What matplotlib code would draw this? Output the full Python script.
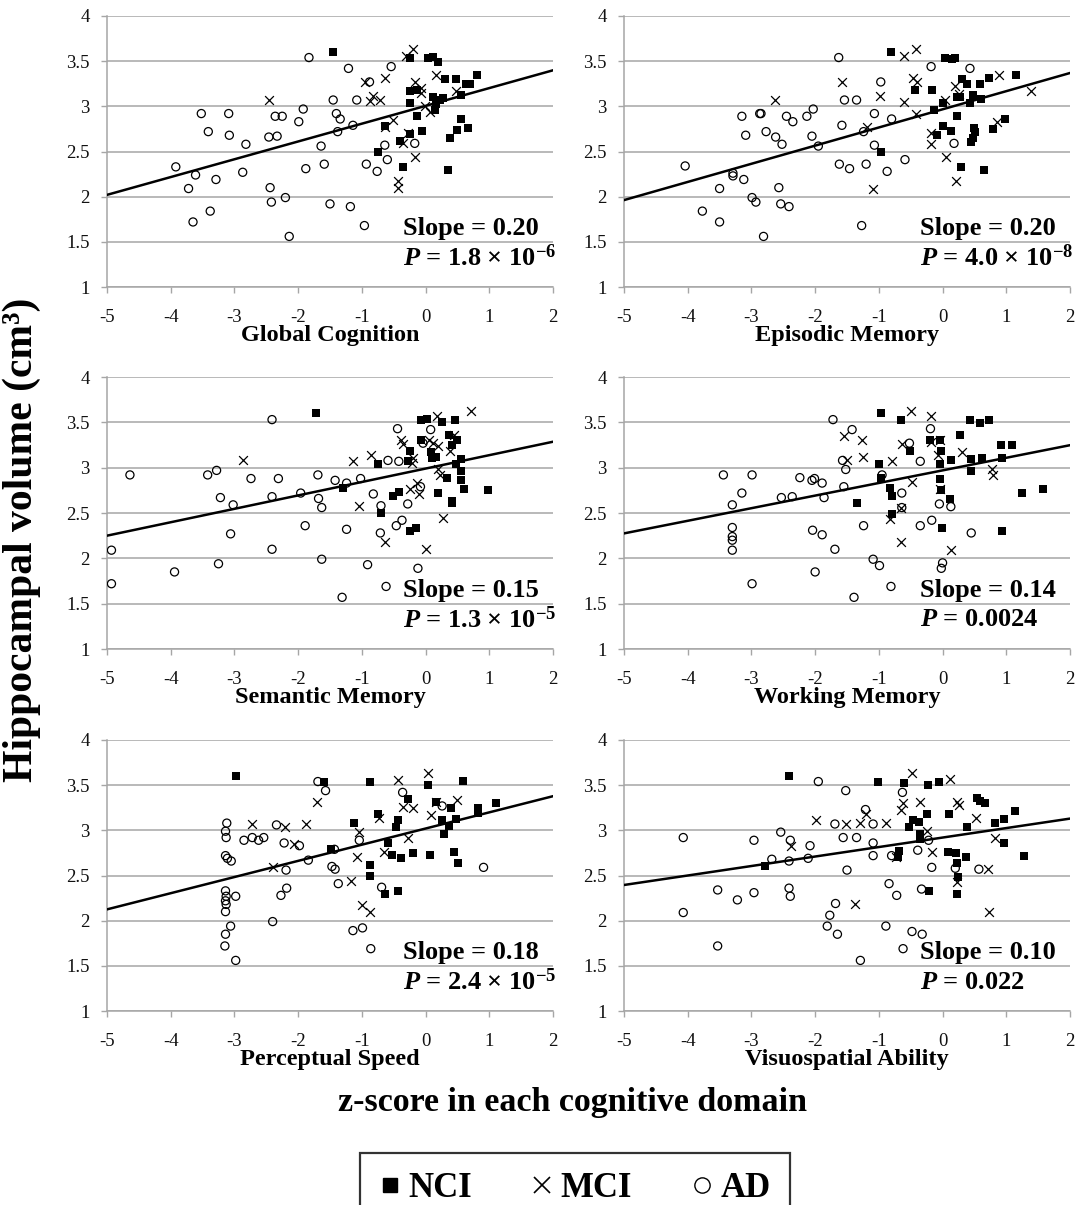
import matplotlib
matplotlib.use("Agg")
import matplotlib.pyplot as plt
from matplotlib.lines import Line2D
import numpy as np

plt.rcParams['font.family'] = ['Liberation Serif', 'DejaVu Serif']
plt.rcParams['axes.unicode_minus'] = False
plt.rcParams['mathtext.fontset'] = 'custom'
plt.rcParams['mathtext.rm'] = 'Liberation Serif:bold'
plt.rcParams['mathtext.it'] = 'Liberation Serif:bold:italic'
plt.rcParams['mathtext.bf'] = 'Liberation Serif:bold'

# ---------------- data ----------------
domains = ["Global Cognition", "Episodic Memory", "Semantic Memory",
           "Working Memory", "Perceptual Speed", "Visuospatial Ability"]
slopes = [0.197, 0.201, 0.148, 0.139, 0.179, 0.105]
intercepts = [3.005, 2.967, 2.99, 2.97, 3.02, 2.92]
slope_labels = ["Slope = 0.20", "Slope = 0.20", "Slope = 0.15",
                "Slope = 0.14", "Slope = 0.18", "Slope = 0.10"]
p_labels = [r"$\mathit{P}$ = 1.8 × 10$^{-6}$", r"$\mathit{P}$ = 4.0 × 10$^{-8}$",
            r"$\mathit{P}$ = 1.3 × 10$^{-5}$", r"$\mathit{P}$ = 0.0024",
            r"$\mathit{P}$ = 2.4 × 10$^{-5}$", r"$\mathit{P}$ = 0.022"]
x_ticks = [-5, -4, -3, -2, -1, 0, 1, 2]
y_ticks = [1, 1.5, 2, 2.5, 3, 3.5, 4]
y_tick_labels = ["1", "1.5", "2", "2.5", "3", "3.5", "4"]
groups = ["NCI", "MCI", "AD"]

# Global Cognition
gc_ad_x = [-3.92, -3.72, -3.65, -3.61, -3.52, -3.41, -3.38, -3.29, -3.09, -3.08, -2.87, -2.82,
           -2.46, -2.44, -2.42, -2.36, -2.33, -2.25, -2.20, -2.14, -1.99, -1.92, -1.88, -1.83,
           -1.64, -1.59, -1.50, -1.45, -1.40, -1.38, -1.34, -1.21, -1.18, -1.14, -1.08, -0.96,
           -0.93, -0.88, -0.76, -0.64, -0.60, -0.54, -0.17]
gc_ad_y = [2.33, 2.09, 1.72, 2.24, 2.92, 2.72, 1.84, 2.19, 2.92, 2.68, 2.27, 2.58,
           2.66, 2.10, 1.94, 2.89, 2.67, 2.89, 1.99, 1.56, 2.83, 2.97, 2.31, 3.54,
           2.56, 2.36, 1.92, 3.07, 2.92, 2.72, 2.86, 3.42, 1.89, 2.79, 3.07, 1.68,
           2.36, 3.27, 2.28, 2.57, 2.41, 3.44, 2.59]
gc_mci_x = [-2.46, -0.95, -0.88, -0.82, -0.72, -0.64, -0.64, -0.51, -0.43, -0.43, -0.35,
            -0.30, -0.27, -0.19, -0.17, -0.17, -0.07, -0.07, -0.01, 0.07, 0.17, 0.47]
gc_mci_y = [3.07, 3.27, 3.06, 3.11, 3.07, 3.31, 2.77, 2.85, 2.17, 2.10, 2.59,
            3.56, 2.70, 3.63, 3.27, 2.44, 3.20, 3.15, 3.00, 2.94, 3.35, 3.17]
gc_nci_x = [-1.45, -0.74, -0.64, -0.40, -0.35, -0.25, -0.24, -0.24, -0.24, -0.14, -0.13,
            -0.05, 0.04, 0.12, 0.20, 0.12, 0.17, 0.15, 0.23, 0.27, 0.30, 0.35, 0.38, 0.47,
            0.50, 0.55, 0.56, 0.63, 0.70, 0.66, 0.81]
gc_nci_y = [3.60, 2.49, 2.78, 2.62, 2.33, 2.69, 3.53, 3.04, 3.17, 3.18, 2.89,
            2.73, 3.53, 3.55, 3.49, 3.10, 3.03, 2.96, 3.07, 3.09, 3.30, 2.30, 2.65, 3.30,
            2.74, 2.86, 3.13, 3.25, 3.25, 2.76, 3.35]

# Episodic Memory
em_ad_x = [-4.04, -3.77, -3.50, -3.50, -3.29, -3.29, -3.15, -3.12, -3.09, -2.99, -2.93, -2.87,
           -2.85, -2.81, -2.77, -2.62, -2.57, -2.54, -2.52, -2.45, -2.41, -2.35, -2.13, -2.05,
           -2.03, -1.95, -1.63, -1.62, -1.58, -1.54, -1.46, -1.35, -1.27, -1.24, -1.20, -1.07,
           -1.07, -0.97, -0.87, -0.80, -0.59, -0.18, 0.18, 0.43]
em_ad_y = [2.34, 1.84, 2.09, 1.72, 2.26, 2.23, 2.89, 2.19, 2.68, 1.99, 1.94, 2.92,
           2.92, 1.56, 2.72, 2.66, 2.10, 1.92, 2.58, 2.89, 1.89, 2.83, 2.89, 2.67,
           2.97, 2.56, 3.54, 2.36, 2.79, 3.07, 2.31, 3.07, 1.68, 2.72, 2.36, 2.92,
           2.57, 3.27, 2.28, 2.86, 2.41, 3.44, 2.59, 3.42]
em_mci_x = [-2.63, -1.58, -1.19, -1.09, -0.98, -0.61, -0.60, -0.46, -0.42, -0.40, -0.42,
            -0.18, -0.18, 0.04, 0.06, 0.20, 0.21, 0.26, 0.86, 0.88, 1.39]
em_mci_y = [3.07, 3.27, 2.77, 2.09, 3.11, 3.56, 3.05, 3.31, 3.63, 3.27, 2.92,
            2.70, 2.58, 3.07, 2.44, 3.23, 2.17, 3.14, 2.83, 3.35, 3.17]
em_nci_x = [-0.81, -0.96, -0.43, -0.17, -0.14, -0.08, 0.00, 0.00, 0.04, 0.15, 0.13, 0.19,
            0.23, 0.22, 0.28, 0.29, 0.31, 0.39, 0.43, 0.47, 0.45, 0.47, 0.50, 0.51, 0.59,
            0.60, 0.65, 0.73, 0.79, 0.98, 1.15]
em_nci_y = [3.60, 2.49, 3.18, 3.18, 2.96, 2.68, 3.04, 2.78, 3.53, 3.52, 2.73, 3.54,
            2.89, 3.10, 3.10, 2.33, 3.30, 3.25, 3.04, 3.13, 2.61, 2.65, 2.76, 2.72, 3.25,
            3.08, 2.30, 3.31, 2.75, 2.86, 3.35]

# Semantic Memory
sm_ad_x = [-4.93, -4.93, -4.64, -3.94, -3.42, -3.28, -3.25, -3.22, -3.02, -3.06, -2.74, -2.41,
           -2.41, -2.41, -2.31, -1.96, -1.89, -1.69, -1.68, -1.63, -1.63, -1.42, -1.31, -1.24,
           -1.24, -1.02, -0.91, -0.82, -0.70, -0.71, -0.62, -0.59, -0.46, -0.44, -0.42, -0.37,
           -0.28, -0.12, -0.08, -0.04, 0.08]
sm_ad_y = [2.09, 1.72, 2.92, 1.85, 2.92, 2.97, 1.94, 2.67, 2.59, 2.27, 2.88, 2.68,
           3.53, 2.10, 2.88, 2.72, 2.36, 2.92, 2.66, 2.56, 1.99, 2.86, 1.57, 2.83,
           2.32, 2.88, 1.93, 2.71, 2.58, 2.28, 1.69, 3.08, 2.36, 3.43, 3.07, 2.42,
           2.60, 1.89, 2.79, 3.27, 3.42]
sm_mci_x = [-2.86, -1.14, -1.04, -0.85, -0.63, -0.38, -0.35, -0.25, -0.21, -0.19, -0.14,
            -0.10, 0.00, 0.05, 0.12, 0.18, 0.19, 0.20, 0.23, 0.27, 0.39, 0.45, 0.71]
sm_mci_y = [3.08, 3.07, 2.58, 3.14, 2.18, 3.30, 3.26, 2.76, 3.05, 3.11, 2.83,
            2.71, 2.10, 3.30, 3.27, 3.57, 3.24, 2.98, 2.92, 2.44, 3.18, 3.36, 3.63]
sm_nci_x = [-1.72, -1.29, -0.74, -0.70, -0.51, -0.41, -0.28, -0.25, -0.25, -0.15, -0.07,
            -0.07, 0.03, 0.09, 0.10, 0.16, 0.19, 0.25, 0.33, 0.37, 0.42, 0.42, 0.42, 0.46,
            0.49, 0.47, 0.56, 0.56, 0.56, 0.60, 0.98]
sm_nci_y = [3.60, 2.78, 3.04, 2.50, 2.69, 2.73, 3.07, 3.18, 2.30, 2.33, 3.53,
            3.30, 3.54, 3.17, 3.11, 3.12, 2.72, 3.50, 2.89, 3.36, 3.25, 2.63, 2.61, 3.53,
            3.30, 3.04, 3.10, 2.96, 2.86, 2.76, 2.75]

# Working Memory
wm_ad_x = [-3.44, -3.30, -3.30, -3.30, -3.30, -3.30, -3.15, -2.99, -2.99, -2.53, -2.36, -2.24,
           -2.05, -2.04, -2.01, -2.00, -1.89, -1.89, -1.86, -1.72, -1.69, -1.55, -1.57, -1.52,
           -1.42, -1.39, -1.24, -1.09, -0.99, -0.95, -0.81, -0.64, -0.64, -0.52, -0.35, -0.35,
           -0.17, -0.19, -0.05, 0.00, -0.02, 0.13, 0.45]
wm_ad_y = [2.92, 2.59, 2.34, 2.24, 2.20, 2.09, 2.72, 2.92, 1.72, 2.67, 2.68, 2.89,
           2.86, 2.31, 2.88, 1.85, 2.83, 2.26, 2.67, 3.53, 2.10, 2.79, 3.08, 2.98,
           3.42, 1.57, 2.36, 1.99, 1.92, 2.92, 1.69, 2.72, 2.56, 3.27, 3.07, 2.36,
           2.42, 3.43, 2.60, 1.95, 1.89, 2.57, 2.28]
wm_mci_x = [-1.54, -1.50, -1.27, -1.25, -0.83, -0.79, -0.65, -0.65, -0.64, -0.49, -0.48,
            -0.18, -0.18, -0.07, -0.04, -0.04, 0.13, 0.30, 0.78, 0.79]
wm_mci_y = [3.35, 3.08, 3.30, 3.12, 2.43, 3.07, 2.18, 2.56, 3.26, 3.63, 2.84,
            3.57, 3.28, 3.14, 3.31, 2.76, 2.09, 3.17, 2.99, 2.92]
wm_nci_x = [-0.97, -0.65, -1.34, -0.99, -0.97, -0.83, -0.80, -0.80, -0.51, -0.20, -0.04,
            -0.02, -0.04, -0.04, -0.02, -0.01, 0.12, 0.14, 0.27, 0.43, 0.45, 0.45, 0.59,
            0.62, 0.73, 0.91, 0.93, 0.94, 1.09, 1.24, 1.57]
wm_nci_y = [3.60, 3.53, 2.61, 3.04, 2.89, 2.78, 2.69, 2.49, 3.18, 3.30, 3.30,
            3.18, 3.04, 2.87, 2.75, 2.33, 2.65, 3.08, 3.36, 3.53, 3.10, 2.96, 3.49,
            3.11, 3.53, 3.25, 3.11, 2.30, 3.25, 2.72, 2.76]

# Perceptual Speed
ps_ad_x = [-3.12, -3.14, -3.13, -3.14, -3.11, -3.05, -3.14, -3.13, -3.14, -3.13, -3.14, -2.98,
           -3.06, -3.14, -3.15, -2.98, -2.85, -2.72, -2.62, -2.54, -2.40, -2.34, -2.22, -2.27,
           -2.19, -2.18, -1.98, -1.84, -1.69, -1.57, -1.43, -1.47, -1.42, -1.37, -1.14, -1.04,
           -0.99, -0.86, -0.69, -0.36, 0.26, 0.91]
ps_ad_y = [3.08, 2.99, 2.92, 2.72, 2.69, 2.66, 2.33, 2.27, 2.22, 2.18, 2.10, 2.27,
           1.94, 1.85, 1.72, 1.56, 2.89, 2.92, 2.89, 2.92, 1.99, 3.06, 2.86, 2.28,
           2.56, 2.36, 2.83, 2.67, 3.54, 3.44, 2.79, 2.60, 2.57, 2.41, 1.89, 2.89,
           1.92, 1.69, 2.37, 3.42, 3.27, 2.59]
ps_mci_x = [-2.72, -2.40, -2.20, -2.07, -1.87, -1.70, -1.17, -1.08, -1.05, -1.00, -0.88,
            -0.73, -0.66, -0.44, -0.36, -0.27, -0.20, 0.04, 0.08, 0.16, 0.50]
ps_mci_y = [3.07, 2.59, 3.04, 2.85, 3.07, 3.31, 2.44, 2.70, 2.98, 2.17, 2.10,
            3.14, 2.76, 3.56, 3.26, 2.92, 3.25, 3.63, 3.17, 3.31, 3.34]
ps_nci_x = [-2.98, -1.59, -1.49, -1.12, -0.88, -0.87, -0.88, -0.74, -0.63, -0.59, -0.52,
            -0.46, -0.43, -0.44, -0.38, -0.27, -0.19, 0.04, 0.07, 0.16, 0.25, 0.29, 0.36,
            0.40, 0.45, 0.47, 0.51, 0.58, 0.83, 0.82, 1.10]
ps_nci_y = [3.60, 3.53, 2.79, 3.08, 3.53, 2.62, 2.49, 3.18, 2.30, 2.86, 2.73,
            3.04, 3.11, 2.33, 2.69, 3.35, 2.75, 3.50, 2.73, 3.31, 3.11, 2.96, 3.05,
            3.25, 2.76, 3.12, 2.64, 3.55, 3.25, 3.19, 3.30]

# Visuospatial Ability
va_ad_x = [-4.07, -4.07, -3.53, -3.53, -3.22, -2.96, -2.96, -2.68, -2.54, -2.39, -2.41, -2.41,
           -2.39, -2.11, -2.08, -1.95, -1.81, -1.77, -1.68, -1.65, -1.69, -1.56, -1.52, -1.50,
           -1.35, -1.29, -1.21, -1.09, -1.09, -1.09, -0.89, -0.84, -0.80, -0.72, -0.63, -0.62,
           -0.48, -0.39, -0.33, -0.32, -0.22, -0.17, 0.20, 0.57]
va_ad_y = [2.92, 2.09, 2.34, 1.72, 2.23, 2.89, 2.31, 2.68, 2.98, 2.89, 2.66, 2.36,
           2.27, 2.69, 2.83, 3.54, 1.94, 2.06, 2.19, 1.85, 3.07, 2.92, 3.44, 2.56,
           2.92, 1.56, 3.23, 3.07, 2.86, 2.72, 1.94, 2.41, 2.72, 2.28, 3.42, 1.69,
           1.88, 2.78, 2.35, 1.85, 2.89, 2.59, 2.58, 2.57]
va_mci_x = [-1.98, -2.38, -1.52, -1.37, -1.29, -1.20, -0.89, -0.73, -0.65, -0.62, -0.48,
            -0.36, -0.24, -0.17, 0.11, 0.22, 0.26, 0.22, 0.52, 0.71, 0.73, 0.82]
va_mci_y = [3.11, 2.83, 3.07, 2.18, 3.08, 3.18, 3.08, 2.71, 3.23, 3.30, 3.63,
            3.31, 2.99, 2.76, 3.57, 3.31, 3.28, 2.43, 3.14, 2.57, 2.10, 2.92]
va_nci_x = [-2.41, -2.79, -1.01, -0.68, -0.70, -0.60, -0.53, -0.46, -0.37, -0.35, -0.35,
            -0.25, -0.23, -0.22, -0.05, 0.10, 0.09, 0.21, 0.22, 0.24, 0.23, 0.36, 0.39,
            0.54, 0.58, 0.67, 0.82, 0.97, 0.96, 1.13, 1.28]
va_nci_y = [3.60, 2.61, 3.54, 2.77, 2.71, 3.52, 3.04, 3.11, 3.09, 2.96, 2.90,
            3.18, 3.50, 2.33, 3.53, 3.18, 2.76, 2.75, 2.64, 2.48, 2.30, 2.70, 3.04,
            3.36, 3.32, 3.30, 3.08, 3.12, 2.86, 3.21, 2.72]

panel_data = [
    (gc_nci_x, gc_nci_y, gc_mci_x, gc_mci_y, gc_ad_x, gc_ad_y),
    (em_nci_x, em_nci_y, em_mci_x, em_mci_y, em_ad_x, em_ad_y),
    (sm_nci_x, sm_nci_y, sm_mci_x, sm_mci_y, sm_ad_x, sm_ad_y),
    (wm_nci_x, wm_nci_y, wm_mci_x, wm_mci_y, wm_ad_x, wm_ad_y),
    (ps_nci_x, ps_nci_y, ps_mci_x, ps_mci_y, ps_ad_x, ps_ad_y),
    (va_nci_x, va_nci_y, va_mci_x, va_mci_y, va_ad_x, va_ad_y),
]

# ---------------- figure ----------------
W, H = 1076, 1205
fig = plt.figure(figsize=(W / 100, H / 100), dpi=100)

col_left = [107, 624]
ax_w = 446
row_top = [16, 377, 740]
ax_h = [271, 272, 271]

grid_col = "#a6a6a6"
for i in range(6):
    r, c = divmod(i, 2)
    l = col_left[c] / W
    b = 1 - (row_top[r] + ax_h[r]) / H
    ax = fig.add_axes([l, b, ax_w / W, ax_h[r] / H])
    nx, ny, mx, my, ax_x, ax_y = panel_data[i]

    ax.set_xlim(-5, 2)
    ax.set_ylim(1, 4)
    ax.set_xticks(x_ticks)
    ax.set_xticklabels([str(t) for t in x_ticks])
    ax.set_yticks(y_ticks)
    ax.set_yticklabels(y_tick_labels)
    ax.yaxis.grid(True, color=grid_col, lw=1.1)
    ax.set_axisbelow(True)
    for s in ["top", "right"]:
        ax.spines[s].set_visible(False)
    for s in ["left", "bottom"]:
        ax.spines[s].set_color(grid_col)
        ax.spines[s].set_linewidth(1.1)
    ax.tick_params(axis="both", direction="out", length=4.5, width=1.0,
                   color=grid_col, labelsize=13.5, labelcolor="#111111")
    ax.tick_params(axis="x", pad=11.5)
    ax.tick_params(axis="y", pad=8)

    ax.scatter(ax_x, ax_y, marker="o", s=34, facecolors="none", edgecolors="black",
               linewidths=0.9, zorder=3)
    ax.scatter(mx, my, marker="x", s=40, color="black", linewidths=0.9, zorder=3)
    ax.scatter(nx, ny, marker="s", s=26, color="black", linewidths=0, zorder=4)

    xs = np.array([-5.0, 2.0])
    ax.plot(xs, intercepts[i] + slopes[i] * xs, color="black", lw=1.8, zorder=5)

    ax.text(-0.36, 1.65, slope_labels[i], fontsize=19, fontweight="bold",
            ha="left", va="center", zorder=6)
    ax.text(-0.36, 1.32, p_labels[i], fontsize=19, fontweight="bold",
            ha="left", va="center", zorder=6)

    ax.set_xlabel(domains[i], fontsize=17.5, fontweight="bold", labelpad=-1)

fig.text(22 / W, 1 - 540 / H, "Hippocampal volume (cm³)", rotation=90,
         fontsize=30, fontweight="bold", ha="center", va="center")
fig.text(572 / W, 1 - 1102 / H, "z-score in each cognitive domain",
         fontsize=24.5, fontweight="bold", ha="center", va="center")

handles = [
    Line2D([], [], marker="s", color="black", linestyle="none", markersize=10.5),
    Line2D([], [], marker="x", color="black", linestyle="none", markersize=12,
           markeredgewidth=1.2),
    Line2D([], [], marker="o", markerfacecolor="none", markeredgecolor="black",
           linestyle="none", markersize=11, markeredgewidth=1.0),
]
leg = fig.legend(handles, groups, loc="upper left", bbox_to_anchor=(360 / W, 1 - 1153 / H),
                 ncol=3, frameon=True, fancybox=False, edgecolor="black",
                 prop={"weight": "bold", "size": 25, "family": "Liberation Serif"},
                 handlelength=0.6, handletextpad=0.25, columnspacing=1.7,
                 borderpad=0.55, borderaxespad=0)
leg.get_frame().set_linewidth(1.6)

fig.savefig("out.png", dpi=100)
